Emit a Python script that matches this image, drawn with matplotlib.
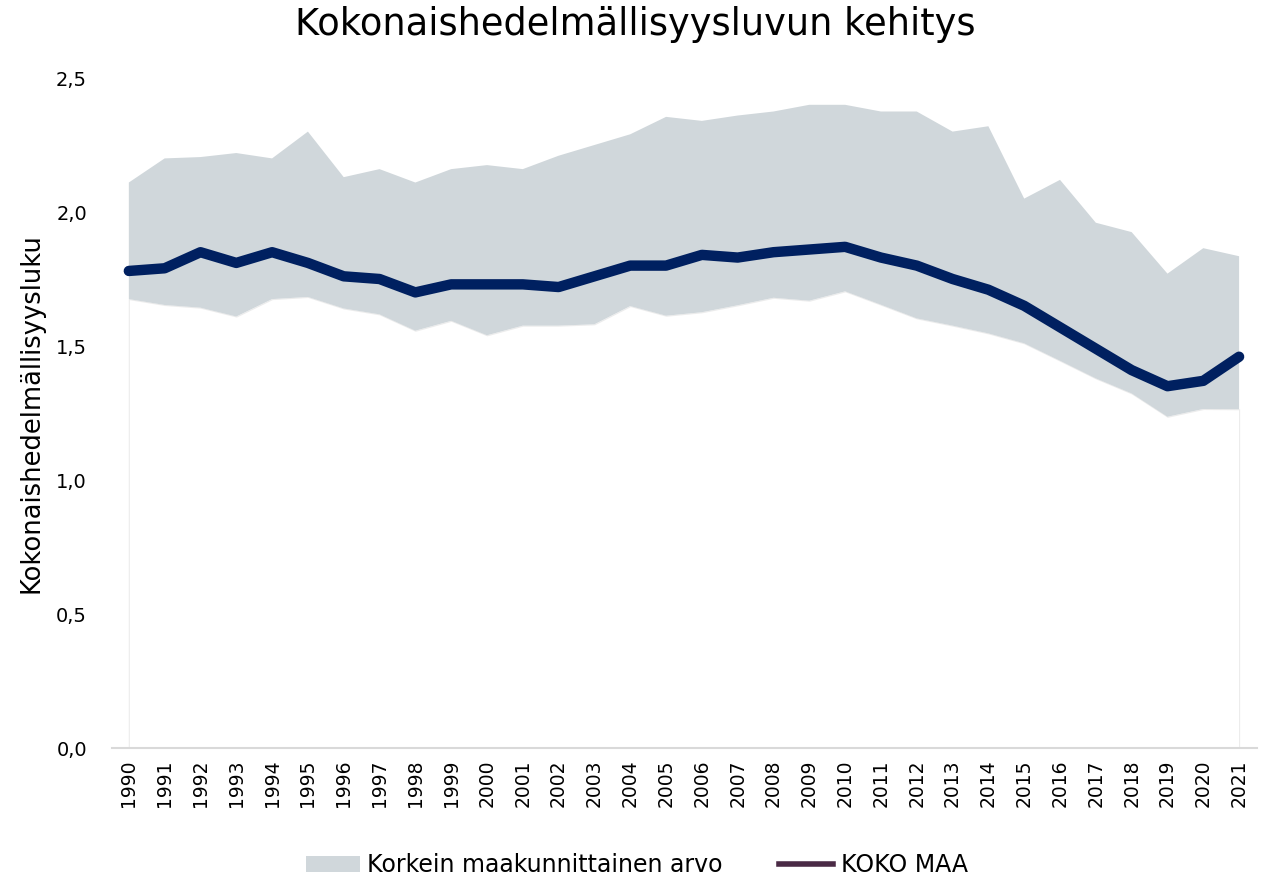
import matplotlib.pyplot as plt
from matplotlib.patches import Patch
from matplotlib.lines import Line2D

plt.rcParams['font.family'] = ['DejaVu Sans']

# Data
years = list(range(1990, 2022))
koko_maa = [1.78, 1.79, 1.85, 1.81, 1.85, 1.81, 1.76, 1.75, 1.70, 1.73,
            1.73, 1.73, 1.72, 1.76, 1.80, 1.80, 1.84, 1.83, 1.85, 1.86,
            1.87, 1.83, 1.80, 1.75, 1.71, 1.65, 1.57, 1.49, 1.41, 1.35,
            1.37, 1.46]
korkein = [2.11, 2.20, 2.205, 2.22, 2.20, 2.30, 2.13, 2.16, 2.11, 2.16,
           2.175, 2.16, 2.21, 2.25, 2.29, 2.355, 2.34, 2.36, 2.375, 2.40,
           2.40, 2.375, 2.375, 2.30, 2.32, 2.05, 2.12, 1.96, 1.925, 1.77,
           1.865, 1.835]
matalin = [1.675, 1.653, 1.643, 1.61, 1.675, 1.683, 1.64, 1.618, 1.557, 1.594,
           1.54, 1.576, 1.576, 1.581, 1.649, 1.613, 1.626, 1.652, 1.68, 1.669,
           1.704, 1.654, 1.603, 1.576, 1.547, 1.51, 1.445, 1.379, 1.323, 1.236,
           1.265, 1.264]
ytick_vals = [0.0, 0.5, 1.0, 1.5, 2.0, 2.5]
ytick_labels = ['0,0', '0,5', '1,0', '1,5', '2,0', '2,5']

grey = '#d0d7db'
navy = '#002060'
legend_line = '#4a2a45'

fig = plt.figure(figsize=(12.63, 8.76), dpi=100)
ax = fig.add_axes([112 / 1263, 1 - 748 / 876, (1257 - 112) / 1263, (748 - 78) / 876])

# white base area (stacked look) and the grey range band
ax.fill_between(years, 0, matalin, facecolor='white', edgecolor='#ececec', linewidth=0.8, zorder=1)
ax.fill_between(years, matalin, korkein, facecolor=grey, edgecolor='none', zorder=2)
ax.plot(years, koko_maa, color=navy, linewidth=7.5, solid_capstyle='round',
        solid_joinstyle='round', zorder=3)

ax.set_xlim(1989.53, 2021.5)
ax.set_ylim(0, 2.5)
ax.set_xticks(years)
ax.set_xticklabels([str(y) for y in years], rotation=90, fontsize=13.5)
ax.set_yticks(ytick_vals)
ax.set_yticklabels(ytick_labels, fontsize=14)
ax.tick_params(axis='both', length=0)
ax.tick_params(axis='y', pad=18)
ax.tick_params(axis='x', pad=8)

for side in ['top', 'right', 'left']:
    ax.spines[side].set_visible(False)
ax.spines['bottom'].set_color('#d9d9d9')
ax.spines['bottom'].set_linewidth(1.5)

ax.set_ylabel('Kokonaishedelmällisyysluku', fontsize=18.5, labelpad=8)
fig.text(0.503, 0.972, 'Kokonaishedelmällisyysluvun kehitys', ha='center', va='center', fontsize=26.5)

handles = [Patch(facecolor=grey, edgecolor='none'),
           Line2D([0], [0], color=legend_line, linewidth=4)]
fig.legend(handles, ['Korkein maakunnittainen arvo', 'KOKO MAA'], loc='center',
           bbox_to_anchor=(0.504, 0.012), ncol=2, frameon=False, fontsize=17,
           handlelength=2.3, handletextpad=0.3, columnspacing=2.4)

fig.savefig('out.png', dpi=100)
